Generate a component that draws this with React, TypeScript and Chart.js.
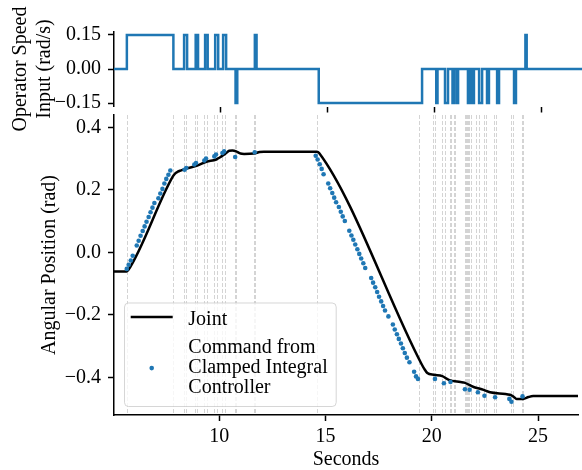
import React, { useEffect, useRef } from "react";
import { Chart, registerables } from "chart.js";

Chart.register(...registerables);

const FONT = "'Liberation Serif', 'Times New Roman', serif";
const BLUE = "#1f77b4";

// shared x range (seconds)
const xRange = [5.05, 26.88];
const xTickValues = [10, 15, 20, 25];
const xTickLabels = ["10", "15", "20", "25"];

// top panel: operator speed input
const speedRange = [-0.165, 0.165];
const speedTickValues = [-0.15, 0, 0.15];
const speedTickLabels = ["\u22120.15", "0.00", "0.15"];
const inputTimes = [5.05, 5.65, 7.82, 8.32, 8.46, 8.86, 8.97, 9.3, 9.42, 9.77, 9.91, 10.14, 10.28, 10.72, 10.8, 11.62, 11.7, 14.6, 19.42, 20.08, 20.14, 20.49, 20.63, 20.84, 20.91, 21.03, 21.1, 21.56, 21.62, 21.66, 21.72, 21.76, 21.84, 22.08, 22.22, 22.45, 22.54, 22.92, 23.01, 23.71, 23.8, 24.24, 24.3, 26.88];
const inputValues = [0, 0.15, 0, 0.15, 0, 0.15, 0, 0.15, 0, 0.15, 0, 0.15, 0, -0.15, 0, 0.15, 0, -0.15, 0, -0.15, 0, -0.15, 0, -0.15, 0, -0.15, 0, -0.15, 0, -0.15, 0, -0.15, 0, -0.15, 0, -0.15, 0, -0.15, 0, -0.15, 0, 0.15, 0, 0];

// bottom panel: angular position
const angleRange = [-0.5206, 0.4394];
const angleTickValues = [-0.4, -0.2, 0, 0.2, 0.4];
const angleTickLabels = ["\u22120.4", "\u22120.2", "0.0", "0.2", "0.4"];

const jointTimes = [5.05, 5.65, 5.72, 7.82, 7.92, 8.05, 8.2, 8.4, 8.93, 9.4, 9.86, 10.28, 10.47, 10.62, 10.8, 11.0, 11.17, 11.63, 11.9, 12.1, 14.6, 14.7, 19.5, 19.64, 19.79, 20.1, 20.49, 20.8, 21.35, 21.53, 21.97, 22.44, 22.74, 23.68, 23.85, 23.99, 24.3, 24.55, 24.77, 26.88];
const jointValues = [-0.061, -0.061, -0.057, 0.243, 0.252, 0.258, 0.262, 0.267, 0.277, 0.29, 0.297, 0.315, 0.325, 0.326, 0.323, 0.316, 0.315, 0.316, 0.321, 0.322, 0.322, 0.318, -0.355, -0.372, -0.386, -0.392, -0.396, -0.408, -0.415, -0.417, -0.431, -0.44, -0.448, -0.456, -0.462, -0.469, -0.469, -0.463, -0.46, -0.46];

const commandTimes = [
  5.65, 5.74, 5.84, 5.93, 6.12, 6.21, 6.3, 6.4, 6.49, 6.58, 6.68, 6.77, 6.86, 6.95, 7.14, 7.23, 7.33, 7.42, 7.51, 7.61, 7.7,
  8.37, 8.45, 8.83, 8.91, 9.3, 9.38, 9.77, 9.85, 10.15, 10.23, 10.75, 11.67,
  14.54, 14.63, 14.73, 14.82, 14.91, 15.13, 15.22, 15.32, 15.41, 15.5, 15.63, 15.72, 15.81, 15.91, 16.12, 16.22, 16.31, 16.4, 16.5, 16.59, 16.68, 16.78, 16.87,
  17.15, 17.24, 17.34, 17.43, 17.52, 17.62, 17.71, 17.8, 17.96, 18.17, 18.26, 18.36, 18.45, 18.55, 18.64, 18.73, 18.83, 18.95, 19.17, 19.26, 19.35,
  20.15, 20.57, 20.88, 21.56, 21.78, 22.17, 22.48, 22.98, 23.65, 23.75, 24.27,
];
const commandValues = [
  -0.053, -0.04, -0.026, -0.011, 0.022, 0.037, 0.053, 0.068, 0.083, 0.098, 0.113, 0.128, 0.143, 0.158, 0.173, 0.188, 0.203, 0.22, 0.235, 0.248, 0.262,
  0.264, 0.27, 0.281, 0.286, 0.294, 0.3, 0.307, 0.313, 0.318, 0.323, 0.305, 0.32,
  0.309, 0.297, 0.282, 0.267, 0.25, 0.22, 0.205, 0.19, 0.175, 0.16, 0.145, 0.13, 0.115, 0.1, 0.069, 0.054, 0.04, 0.025, 0.01, -0.005, -0.02, -0.035, -0.05,
  -0.082, -0.097, -0.112, -0.127, -0.142, -0.157, -0.172, -0.186, -0.205, -0.231, -0.247, -0.262, -0.277, -0.292, -0.307, -0.322, -0.337, -0.352, -0.382, -0.397, -0.405,
  -0.405, -0.419, -0.415, -0.438, -0.44, -0.448, -0.459, -0.464, -0.469, -0.478, -0.461,
];

const legendJointLabel = ["Joint"];
const legendCommandLabel = ["Command from", "Clamped Integral", "Controller"];

const dashedLinesPlugin = {
  id: "switchLines",
  beforeDatasetsDraw(chart: any) {
    const { ctx, chartArea: ca, scales } = chart;
    ctx.save();
    ctx.strokeStyle = "rgba(160,160,160,0.45)";
    ctx.lineWidth = 1;
    ctx.setLineDash([4, 2]);
    inputTimes.slice(1, -1).forEach((t) => {
      const x = Math.round(scales.x.getPixelForValue(t)) + 0.5;
      ctx.beginPath();
      ctx.moveTo(x, ca.top);
      ctx.lineTo(x, ca.bottom);
      ctx.stroke();
    });
    ctx.restore();
  },
};

const legendPlugin = {
  id: "customLegend",
  afterDraw(chart: any) {
    const { ctx, chartArea: ca } = chart;
    ctx.save();
    ctx.font = `20px ${FONT}`;
    const all = [...legendJointLabel, ...legendCommandLabel];
    const textW = Math.max(...all.map((l) => ctx.measureText(l).width));
    const boxH = 103.5;
    const boxL = ca.left + 10;
    const boxB = ca.bottom - 9;
    const boxT = boxB - boxH;
    const hx0 = boxL + 6.7;
    const hx1 = hx0 + 42;
    const tx = hx1 + 15.6;
    const boxW = tx + textW + 8 - boxL;
    ctx.beginPath();
    ctx.roundRect(boxL + 0.5, boxT + 0.5, boxW, boxH, 4);
    ctx.fillStyle = "rgba(255,255,255,0.8)";
    ctx.fill();
    ctx.strokeStyle = "rgba(204,204,204,0.8)";
    ctx.lineWidth = 1;
    ctx.stroke();
    // joint handle
    ctx.beginPath();
    ctx.moveTo(hx0, boxT + 14.6);
    ctx.lineTo(hx1, boxT + 14.6);
    ctx.strokeStyle = "#000";
    ctx.lineWidth = 2.5;
    ctx.stroke();
    ctx.fillStyle = "#000";
    ctx.textBaseline = "alphabetic";
    ctx.textAlign = "left";
    ctx.fillText(legendJointLabel[0], tx, boxT + 22.3);
    legendCommandLabel.forEach((l, i) => ctx.fillText(l, tx, boxT + 50 + i * 20.3));
    ctx.beginPath();
    ctx.arc((hx0 + hx1) / 2, boxT + 65.6, 2.3, 0, Math.PI * 2);
    ctx.fillStyle = BLUE;
    ctx.fill();
    ctx.restore();
  },
};

const tickFont = { family: FONT, size: 20 };

export default function App() {
  const topRef = useRef<HTMLCanvasElement>(null);
  const botRef = useRef<HTMLCanvasElement>(null);

  useEffect(() => {
    Chart.defaults.font.family = FONT;
    Chart.defaults.color = "#000";

    const top = new Chart(topRef.current as HTMLCanvasElement, {
      type: "scatter",
      data: {
        datasets: [
          {
            data: inputTimes.map((t, i) => ({ x: t, y: inputValues[i] })),
            showLine: true,
            stepped: true,
            borderColor: BLUE,
            borderWidth: 2.5,
            pointRadius: 0,
          } as any,
        ],
      },
      options: {
        animation: false,
        responsive: false,
        layout: { padding: { top: 31.5, left: 0, right: 0, bottom: 0 } },
        plugins: { legend: { display: false }, tooltip: { enabled: false } },
        scales: {
          x: {
            type: "linear",
            min: xRange[0],
            max: xRange[1],
            afterBuildTicks: (s: any) => {
              s.ticks = xTickValues.map((v) => ({ value: v }));
            },
            afterFit: (s: any) => {
              s.height = 470 - 106.5;
            },
            ticks: { display: false },
            grid: { display: true, drawOnChartArea: false, drawTicks: true, tickLength: 6, tickWidth: 1.5, tickColor: "#000" },
            border: { display: false },
          },
          y: {
            min: speedRange[0],
            max: speedRange[1],
            afterBuildTicks: (s: any) => {
              s.ticks = speedTickValues.map((v) => ({ value: v }));
            },
            afterFit: (s: any) => {
              s.width = 114;
            },
            ticks: { callback: (_v: any, i: number) => speedTickLabels[i], font: tickFont, padding: 7, color: "#000" },
            grid: { display: true, drawOnChartArea: false, drawTicks: true, tickLength: 6, tickWidth: 1.5, tickColor: "#000" },
            border: { display: true, color: "#000", width: 1.5 },
            title: {
              display: true,
              text: ["Operator Speed", "Input (rad/s)"],
              font: { family: FONT, size: 20, lineHeight: 1.2 },
              padding: { top: 9, bottom: 0 },
              color: "#000",
            },
          },
        },
      },
    });

    const bot = new Chart(botRef.current as HTMLCanvasElement, {
      type: "scatter",
      data: {
        datasets: [
          {
            label: "Command from Clamped Integral Controller",
            data: commandTimes.map((t, i) => ({ x: t, y: commandValues[i] })),
            showLine: false,
            pointRadius: 2.3,
            pointBackgroundColor: BLUE,
            pointBorderWidth: 0,
          } as any,
          {
            label: "Joint",
            data: jointTimes.map((t, i) => ({ x: t, y: jointValues[i] })),
            showLine: true,
            borderColor: "#000",
            borderWidth: 2.5,
            pointRadius: 0,
            cubicInterpolationMode: "monotone",
          } as any,
        ],
      },
      options: {
        animation: false,
        responsive: false,
        layout: { padding: { top: 115, left: 0, right: 0, bottom: 0 } },
        plugins: { legend: { display: false }, tooltip: { enabled: false } },
        scales: {
          x: {
            type: "linear",
            min: xRange[0],
            max: xRange[1],
            afterBuildTicks: (s: any) => {
              s.ticks = xTickValues.map((v) => ({ value: v }));
            },
            afterFit: (s: any) => {
              s.height = 55;
            },
            ticks: { callback: (_v: any, i: number) => xTickLabels[i], font: tickFont, padding: 4, color: "#000", maxRotation: 0, autoSkip: false },
            grid: { display: true, drawOnChartArea: false, drawTicks: true, tickLength: 6, tickWidth: 1.5, tickColor: "#000" },
            border: { display: true, color: "#000", width: 1.5 },
            title: {
              display: true,
              text: "Seconds",
              font: { family: FONT, size: 20, lineHeight: 1.0 },
              padding: { top: 0, bottom: 0 },
              color: "#000",
            },
          },
          y: {
            min: angleRange[0],
            max: angleRange[1],
            afterBuildTicks: (s: any) => {
              s.ticks = angleTickValues.map((v) => ({ value: v }));
            },
            afterFit: (s: any) => {
              s.width = 114;
            },
            ticks: { callback: (_v: any, i: number) => angleTickLabels[i], font: tickFont, padding: 7, color: "#000" },
            grid: { display: true, drawOnChartArea: false, drawTicks: true, tickLength: 6, tickWidth: 1.5, tickColor: "#000" },
            border: { display: true, color: "#000", width: 1.5 },
            title: {
              display: true,
              text: "Angular Position (rad)",
              font: { family: FONT, size: 20, lineHeight: 1.2 },
              padding: { top: 38, bottom: 0 },
              color: "#000",
            },
          },
        },
      },
      plugins: [dashedLinesPlugin, legendPlugin],
    });

    return () => {
      top.destroy();
      bot.destroy();
    };
  }, []);

  return (
    <div style={{ position: "fixed", left: 0, top: 0, width: 582, height: 470, background: "#fff", overflow: "hidden" }}>
      <canvas ref={botRef} width={582} height={470} style={{ position: "absolute", left: 0, top: 0 }} />
      <canvas ref={topRef} width={582} height={470} style={{ position: "absolute", left: 0, top: 0 }} />
    </div>
  );
}
